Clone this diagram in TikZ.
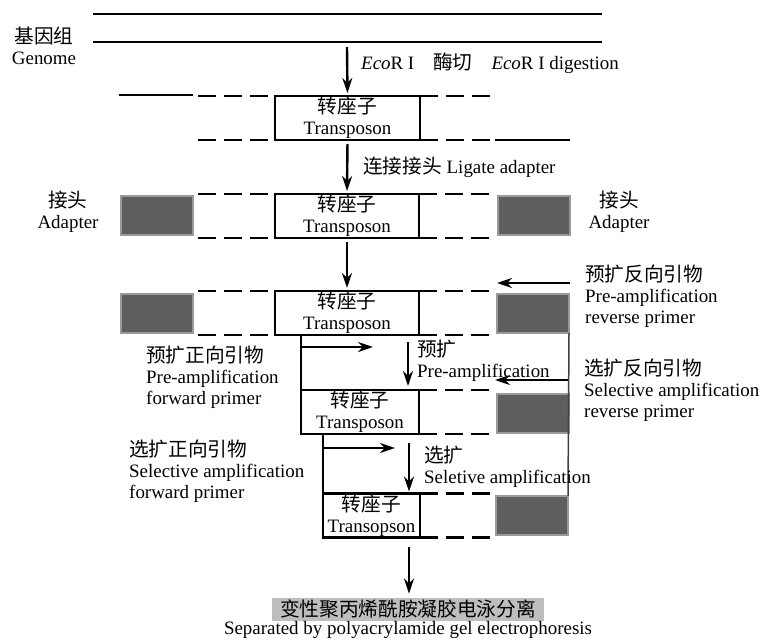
\documentclass[tikz,border=0pt]{standalone}
\usepackage{fontspec}
\setmainfont{Liberation Serif}
\newfontfamily\cjk[Scale=1.04]{Noto Sans CJK SC}
\usetikzlibrary{positioning, calc, arrows.meta}

\definecolor{adfill}{HTML}{5E5E5E}
\definecolor{adedge}{HTML}{9A9A9A}
\definecolor{gelfill}{HTML}{BEBEBE}

\tikzset{
    tpbox/.style={draw, line width=2.2bp, align=center, inner sep=0pt, outer sep=0pt, minimum height=44bp},
    adapter/.style={fill=adfill, draw=adedge, line width=2.8bp, minimum width=72bp, minimum height=39bp, inner sep=0pt, outer sep=0pt},
    dnaline/.style={line width=2.6bp},
    gapline/.style={line width=2.4bp, dash pattern=on 18bp off 8bp},
    arr/.style={line width=2.4bp, -{Stealth[length=15bp, width=10bp]}},
    guide/.style={line width=1.5bp, draw=black!75},
    lbl/.style={align=left, anchor=west, inner sep=0pt},
    clbl/.style={align=center, inner sep=0pt},
}

\begin{document}
\begin{tikzpicture}[x=1bp, y=-1bp, font=\fontsize{19}{21}\selectfont]
    \useasboundingbox (0,0) rectangle (769,644);
    \coordinate (lgap) at (198,0);
    \coordinate (rgap) at (490,0);

    % genome
    \draw[dnaline] (93,14) -- (602,14);
    \draw[dnaline] (93,42) -- (602,42);
    \node[clbl] (genome) at (44,46) {{\cjk 基因组}\\Genome};

    % transposon boxes
    \node[tpbox, minimum width=145bp] (tp1) at (347.5,118) {{\cjk 转座子}\\Transposon};
    \node[tpbox, minimum width=144bp] (tp2) at (347,216) {{\cjk 转座子}\\Transposon};
    \node[tpbox, minimum width=144bp] (tp3) at (347,313) {{\cjk 转座子}\\Transposon};
    \node[tpbox, minimum width=118bp] (tp4) at (360,412) {{\cjk 转座子}\\Transposon};
    \node[tpbox, minimum width=97bp] (tp5) at (371.5,515.5) {{\cjk 转座子}\\Transopson};

    % flanking strands
    \draw[dnaline] (119,95) -- (193,95);
    \draw[gapline] (lgap |- tp1.north west) -- (tp1.north west);
    \draw[gapline] (lgap |- tp1.south west) -- (tp1.south west);
    \draw[gapline] (tp1.south east) -- ++(72,0);
    \draw[dnaline] ($(tp1.south east)+(75,0)$) -- ++(75,0);
    \foreach \r in {2,3} {
        \draw[gapline] (lgap |- tp\r.north west) -- (tp\r.north west);
        \draw[gapline] (lgap |- tp\r.south west) -- (tp\r.south west);
    }
    \foreach \r in {1,...,5} {
        \draw[gapline] (tp\r.north east) -- (rgap |- tp\r.north east);
    }
    \foreach \r in {2,...,5} {
        \draw[gapline] (tp\r.south east) -- (rgap |- tp\r.south east);
    }
    \draw[dnaline] (tp4.north west) -- (tp4.north west |- tp3.south);
    \draw[dnaline] (tp5.north west) -- (tp5.north west |- tp4.south);

    % adapters
    \node[adapter] (ad2l) at (157,215.5) {};
    \node[adapter] (ad2r) at (534,215.5) {};
    \node[adapter] (ad3l) at (157,313.5) {};
    \node[adapter] (ad3r) at (533,313.5) {};
    \node[adapter] (ad4r) at (533,413.5) {};
    \node[adapter] (ad5r) at (532,515.5) {};
    \draw[guide] (ad3r.south east) -- (ad5r.north east);
    \node[clbl] (adl) at (68,212) {{\cjk 接头}\\Adapter};
    \node[clbl] (adr) at (619,212) {{\cjk 接头}\\Adapter};

    % gel
    \node[fill=gelfill, inner xsep=8bp, inner ysep=2.5bp] (gel) at (408,609.5) {\cjk 变性聚丙烯酰胺凝胶电泳分离};
    \node[below=0bp of gel, inner sep=0pt] (sep) {Separated by polyacrylamide gel electrophoresis};

    % steps
    \coordinate (cut) at (347,47);
    \coordinate (pa) at (408,342);
    \coordinate (sa) at (409,443);
    \draw[arr, shorten >=3bp] (cut) -- (tp1.north);
    \draw[arr, shorten <=4bp, shorten >=3bp] (tp1.south) -- (tp2.north);
    \draw[arr, shorten <=4bp, shorten >=3bp] (tp2.south) -- (tp3.north);
    \draw[arr, shorten >=4bp] (pa) -- (pa |- tp4.north);
    \draw[arr, shorten >=2bp] (sa) -- (sa |- tp5.north);
    \draw[arr, shorten <=9bp, shorten >=4bp] (tp5.south -| sa) -- (gel.north -| sa);
    \node[lbl] (ecor) at (361,63) {\textit{Eco}R I\quad{\cjk 酶切}\quad\textit{Eco}R I digestion};
    \node[lbl] (lig) at (363,167) {{\cjk 连接接头} Ligate adapter};
    \node[lbl] (pre) at (417,361) {{\cjk 预扩}\\Pre-amplification};
    \node[lbl] (sel) at (424,467) {{\cjk 选扩}\\Seletive amplification};

    % primers
    \coordinate (prr) at (570,283);
    \coordinate (prre) at (497,283);
    \coordinate (srr) at (568,380);
    \coordinate (srre) at (495,380);
    \coordinate (pff) at (300,347);
    \coordinate (pffe) at (373,347);
    \coordinate (sff) at (322,448);
    \coordinate (sffe) at (395,448);
    \draw[arr] (prr) -- (prre);
    \draw[arr] (srr) -- (srre);
    \draw[arr] (pff) -- (pffe);
    \draw[arr] (sff) -- (sffe);
    \node[lbl] (prrl) at (585,296) {{\cjk 预扩反向引物}\\Pre-amplification\\reverse primer};
    \node[lbl] (pffl) at (146,377) {{\cjk 预扩正向引物}\\Pre-amplification\\forward primer};
    \node[lbl] (srrl) at (584,390) {{\cjk 选扩反向引物}\\Selective amplification\\reverse primer};
    \node[lbl] (sffl) at (129,471) {{\cjk 选扩正向引物}\\Selective amplification\\forward primer};
\end{tikzpicture}
\end{document}
